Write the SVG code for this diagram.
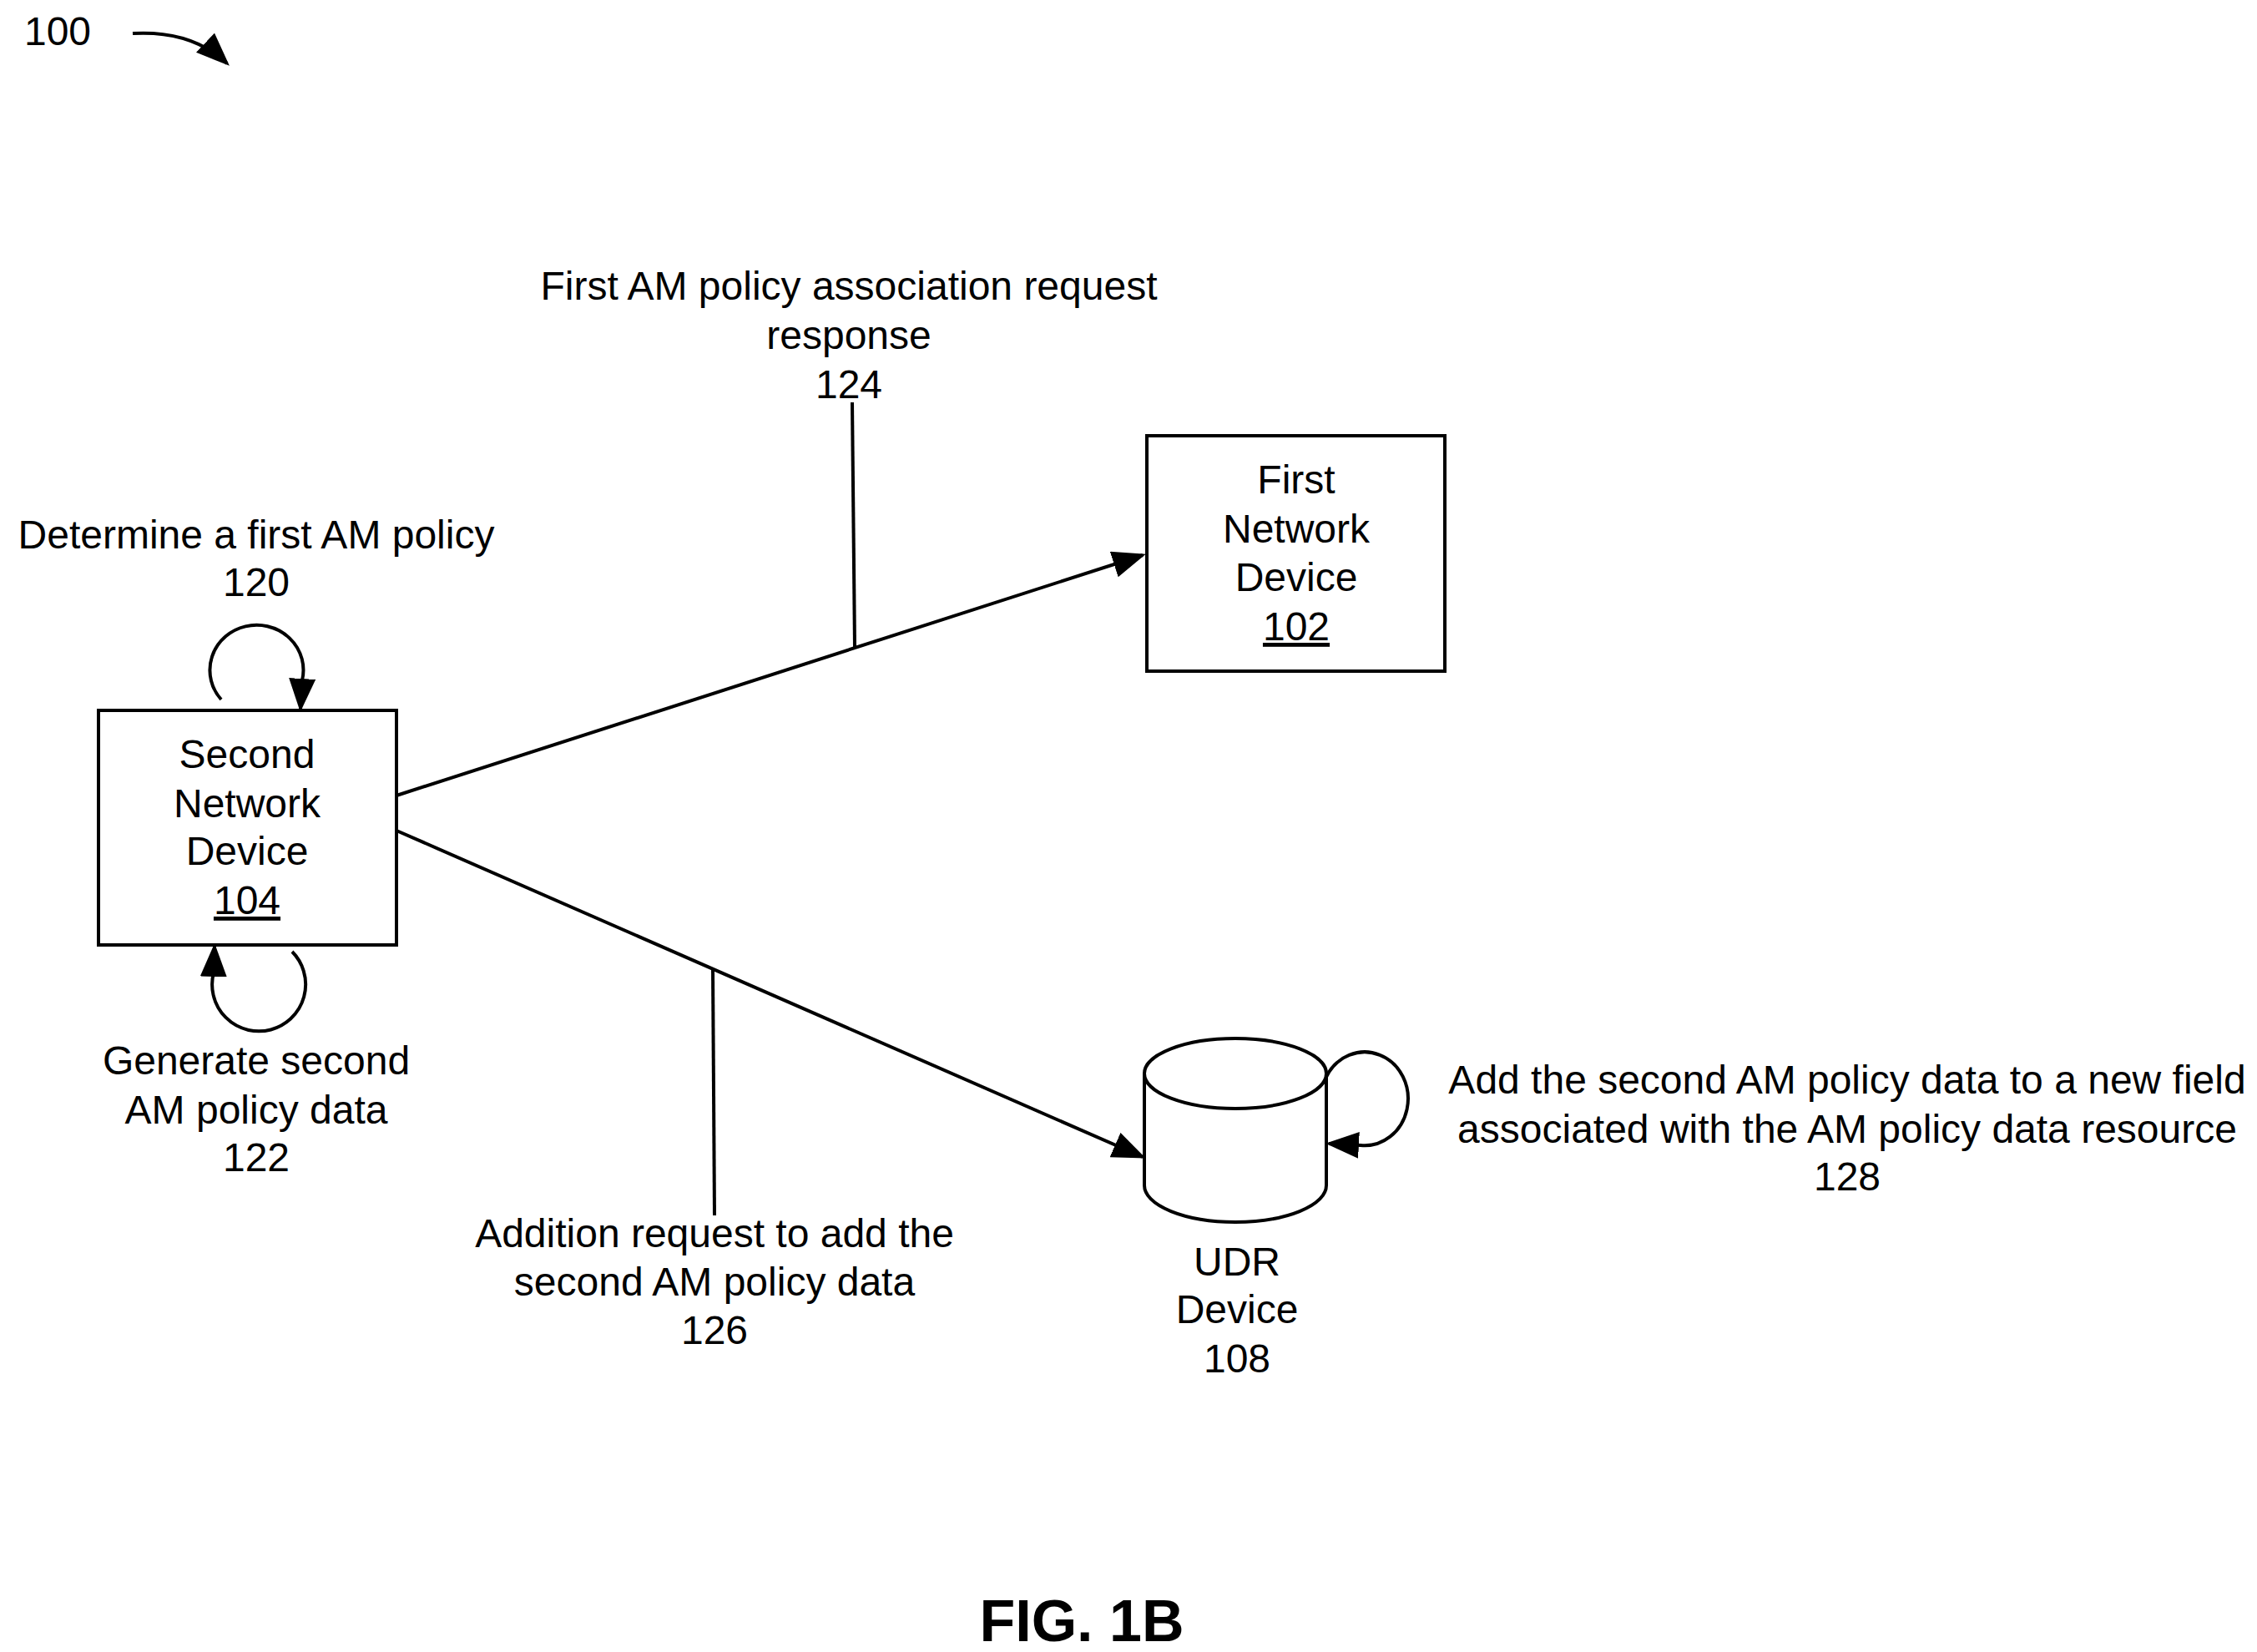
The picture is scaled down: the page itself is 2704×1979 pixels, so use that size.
<svg xmlns="http://www.w3.org/2000/svg" width="2704" height="1979" viewBox="0 0 2704 1979">
<style>
text{font-family:Arial,"Liberation Sans",sans-serif;font-size:48px;fill:#000;text-anchor:middle}
.ln{fill:none;stroke:#000;stroke-width:4}
.bx{fill:#fff;stroke:#000;stroke-width:4}
</style>
<defs>
<marker id="ahb" viewBox="0 0 10 8" refX="9" refY="4" markerWidth="40" markerHeight="32" orient="auto" markerUnits="userSpaceOnUse">
<path d="M0,0 L10,4 L0,8 Z" fill="#000"/>
</marker>
</defs>
<rect width="2704" height="1979" fill="#fff"/>
<text x="69" y="54">100</text>
<path class="ln" d="M159,40 Q230,36 272,76" marker-end="url(#ahb)"/>
<g id="connectors">
<line class="ln" x1="475" y1="953" x2="1369" y2="665" marker-end="url(#ahb)"/>
<line class="ln" x1="475" y1="995" x2="1369" y2="1386" marker-end="url(#ahb)"/>
<line class="ln" x1="1021" y1="482" x2="1024" y2="775"/>
<line class="ln" x1="854" y1="1161" x2="856" y2="1456"/>
<path class="ln" d="M265,838 A56,54 0 1 1 362,815 L360,849" marker-end="url(#ahb)"/>
<path class="ln" d="M350,1140 A56,56 0 1 1 256,1165 L257,1134" marker-end="url(#ahb)"/>
<path class="ln" d="M1589,1290 A52,56 0 1 1 1630,1372 L1592,1370" marker-end="url(#ahb)"/>
</g>
<g id="label124"><text x="1017" y="359">First AM policy association request</text><text x="1017" y="418">response</text><text x="1017" y="477">124</text></g>
<g id="label120"><text x="307" y="657">Determine a first AM policy</text><text x="307" y="714">120</text></g>
<g id="label122"><text x="307" y="1287">Generate second</text><text x="307" y="1346">AM policy data</text><text x="307" y="1403">122</text></g>
<g id="label126"><text x="856" y="1494">Addition request to add the</text><text x="856" y="1552">second AM policy data</text><text x="856" y="1610">126</text></g>
<g id="label128"><text x="2213" y="1310">Add the second AM policy data to a new field</text><text x="2213" y="1369">associated with the AM policy data resource</text><text x="2213" y="1426">128</text></g>
<g id="node102"><rect class="bx" x="1374" y="522" width="357" height="282"/>
<text x="1553" y="591">First</text><text x="1553" y="650">Network</text><text x="1553" y="708">Device</text><text x="1553" y="767" text-decoration="underline">102</text></g>
<g id="node104"><rect class="bx" x="118" y="851" width="357" height="281"/>
<text x="296" y="920">Second</text><text x="296" y="979">Network</text><text x="296" y="1036">Device</text><text x="296" y="1095" text-decoration="underline">104</text></g>
<g id="node108">
<path class="bx" d="M1371,1286 L1371,1420 A109,44 0 0 0 1589,1420 L1589,1286"/>
<ellipse class="bx" cx="1480" cy="1286" rx="109" ry="42"/>
<text x="1482" y="1528">UDR</text><text x="1482" y="1585">Device</text><text x="1482" y="1644">108</text></g>
<text x="1296" y="1966" style="font-weight:bold;font-size:70px">FIG. 1B</text>
</svg>
